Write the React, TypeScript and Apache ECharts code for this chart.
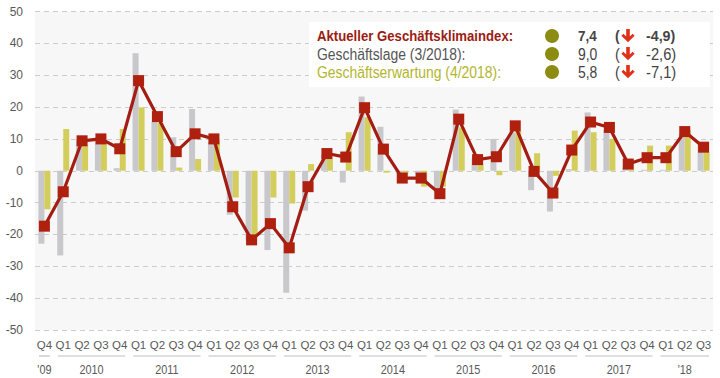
import React, { useEffect, useRef } from "react";
import * as echarts from "echarts";

const quarterLabels = [
  "Q4",
  "Q1", "Q2", "Q3", "Q4",
  "Q1", "Q2", "Q3", "Q4",
  "Q1", "Q2", "Q3", "Q4",
  "Q1", "Q2", "Q3", "Q4",
  "Q1", "Q2", "Q3", "Q4",
  "Q1", "Q2", "Q3", "Q4",
  "Q1", "Q2", "Q3", "Q4",
  "Q1", "Q2", "Q3", "Q4",
  "Q1", "Q2", "Q3",
];

const yearLabels = ["'09", "2010", "2011", "2012", "2013", "2014", "2015", "2016", "2017", "'18"];
const yearStart = [0, 1, 5, 9, 13, 17, 21, 25, 29, 33];
const yearEnd = [0, 4, 8, 12, 16, 20, 24, 28, 32, 35];

const klimaIndex = [
  -17.4,
  -6.6, 9.4, 10.0, 6.9,
  28.3, 17.0, 6.0, 11.6,
  10.0, -11.3, -21.7, -16.6,
  -24.2, -5.0, 5.4, 4.3,
  19.8, 6.8, -2.3, -2.3,
  -7.2, 16.2, 3.5, 4.4,
  14.1, -0.2, -7.0, 6.5,
  15.3, 13.6, 2.1, 4.1,
  4.1, 12.3, 7.4,
];

const geschaeftslage = [
  -22.9,
  -26.6, 9.5, 8.4, 0.8,
  36.9, 15.5, 10.5, 19.4,
  9.0, -13.8, -22.0, -24.9,
  -38.3, -12.5, 5.0, -3.7,
  23.3, 13.8, -1.0, -1.0,
  -8.9, 19.2, 4.0, 10.0,
  12.0, -6.1, -12.8, 0.5,
  18.3, 13.0, 1.0, 0.3,
  0.3, 11.6, 9.0,
];

const geschaeftserwartung = [
  -12.1,
  13.1, 8.0, 9.5, 13.1,
  19.9, 15.0, 1.0, 3.7,
  9.5, -8.4, -19.9, -8.4,
  -10.3, 2.1, 3.7, 12.1,
  16.8, -0.6, -1.0, -5.0,
  -5.0, 13.6, 2.0, -1.4,
  12.5, 5.5, -1.6, 12.6,
  12.1, 10.0, 0.5, 7.9,
  7.9, 12.9, 5.8,
];

const legendNames = [
  "Aktueller Geschäftsklimaindex:",
  "Geschäftslage (3/2018):",
  "Geschäftserwartung (4/2018):",
];
const legendValues = ["7,4", "9,0", "5,8"];
const legendChanges = ["-4,9)", "-2,6)", "-7,1)"];

const SANS = "'Liberation Sans', Arial, sans-serif";

export default function App() {
  const ref = useRef<HTMLDivElement>(null);

  useEffect(() => {
    if (!ref.current) return;
    const chart = echarts.init(ref.current, undefined, { renderer: "svg" });

    const legendColors = ["#9b1c12", "#555555", "#b3b52e"];
    const legendRowsY = [36, 54, 72];
    const graphics: any[] = [
      {
        type: "rect",
        shape: { x: 309, y: 22, width: 401, height: 65 },
        style: { fill: "#ffffff" },
        z: 100,
      },
    ];
    const txt = (x: number, y: number, text: string, fill: string, bold: boolean, sx: number) => ({
      type: "text",
      x,
      y,
      scaleX: sx,
      z: 101,
      style: {
        text,
        fill,
        font: `${bold ? "bold 15.5px" : "16px"} ${SANS}`,
        verticalAlign: "middle",
        align: "left",
      },
    });
    legendNames.forEach((name, i) => {
      const bold = i === 0;
      graphics.push(txt(317, legendRowsY[i], name, legendColors[i], bold, bold ? 0.85 : 0.87));
      graphics.push({
        type: "circle",
        shape: { cx: 552, cy: legendRowsY[i], r: 7 },
        style: { fill: "#8c8c12" },
        z: 101,
      });
      graphics.push(txt(578, legendRowsY[i], legendValues[i], "#444444", bold, 0.87));
      graphics.push(txt(615, legendRowsY[i], "(", "#444444", bold, 0.9));
      graphics.push({
        type: "polygon",
        x: 628,
        y: legendRowsY[i],
        z: 101,
        shape: {
          points: [
            [-1.8, -7], [1.8, -7], [1.8, 0.5], [4.6, -2.3], [6.6, -0.3],
            [0, 6.3], [-6.6, -0.3], [-4.6, -2.3], [-1.8, 0.5],
          ],
        },
        style: { fill: "#e0301a" },
      });
      graphics.push(txt(646, legendRowsY[i], legendChanges[i], "#444444", bold, 0.92));
    });

    const yearData = yearLabels.map((_, i) => [yearStart[i], yearEnd[i]]);

    chart.setOption({
      animation: false,
      grid: {
        left: 35,
        right: 7,
        top: 11.5,
        bottom: 48,
        show: true,
        backgroundColor: "#f7f7f7",
        borderWidth: 0,
      },
      xAxis: {
        type: "category",
        data: quarterLabels,
        boundaryGap: true,
        axisLine: { show: false, onZero: false },
        axisTick: { show: false },
        axisLabel: {
          color: "#595959",
          fontSize: 11.5,
          fontFamily: SANS,
          margin: 9,
          interval: 0,
        },
        splitLine: { show: false },
      },
      yAxis: {
        type: "value",
        min: -50,
        max: 50,
        interval: 10,
        axisLine: { show: false },
        axisTick: { show: false },
        axisLabel: {
          color: "#595959",
          fontSize: 12,
          fontFamily: SANS,
          margin: 12,
        },
        splitLine: {
          show: true,
          lineStyle: { color: "#cccccc", type: [5, 4], width: 1 },
        },
      },
      series: [
        {
          name: "Geschäftslage",
          type: "bar",
          data: geschaeftslage,
          barWidth: 6,
          barGap: "0%",
          itemStyle: { color: "#c7c7cc" },
          z: 2,
        },
        {
          name: "Geschäftserwartung",
          type: "bar",
          data: geschaeftserwartung,
          barWidth: 6,
          barGap: "0%",
          itemStyle: { color: "#d3ce5c" },
          z: 2,
        },
        {
          name: "Geschäftsklimaindex",
          type: "line",
          data: klimaIndex,
          symbol: "rect",
          symbolSize: 11,
          lineStyle: { color: "#a31d12", width: 3.2 },
          itemStyle: { color: "#b0200f" },
          z: 5,
        },
        {
          type: "custom",
          data: yearData,
          clip: false,
          silent: true,
          encode: { x: 0, y: 1 },
          z: 6,
          renderItem: (params: any, api: any) => {
            const s = api.value(0);
            const e = api.value(1);
            const p0 = api.coord([s, -50]);
            const p1 = api.coord([e, -50]);
            const pNext = api.coord([s + 1, -50]);
            const band = Math.abs(pNext[0] - p0[0]) || 18.8;
            const half = band / 2;
            return {
              type: "group",
              children: [
                {
                  type: "line",
                  shape: {
                    x1: p0[0] - half + 4,
                    y1: p0[1] + 26,
                    x2: p1[0] + half - 4,
                    y2: p0[1] + 26,
                  },
                  style: { stroke: "#c0c0c0", lineWidth: 1.2 },
                },
                {
                  type: "text",
                  x: (p0[0] + p1[0]) / 2,
                  y: p0[1] + 33,
                  scaleX: 0.87,
                  style: {
                    text: yearLabels[params.dataIndex],
                    x: 0,
                    y: 0,
                    align: "center",
                    verticalAlign: "top",
                    font: `12.5px ${SANS}`,
                    fill: "#595959",
                  },
                },
              ],
            };
          },
        },
      ],
      graphic: graphics,
    });

    return () => {
      chart.dispose();
    };
  }, []);

  return (
    <div
      ref={ref}
      style={{ position: "absolute", left: 0, top: 0, width: 720, height: 378 }}
    />
  );
}
